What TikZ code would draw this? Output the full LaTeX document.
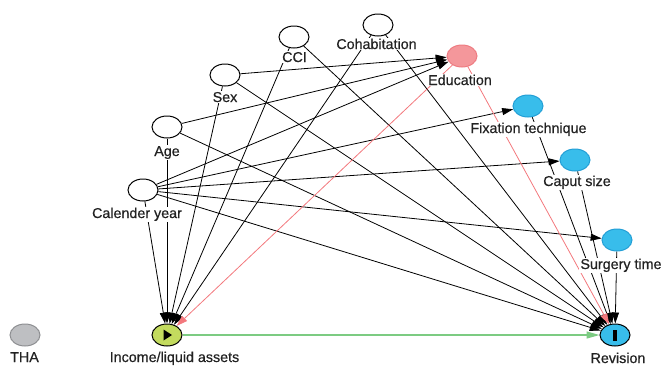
\documentclass[tikz,border=0pt]{standalone}
\usepackage{fontspec}
\setmainfont{Liberation Sans}
\newfontfamily\lblfont{Liberation Sans}[FakeBold=0.5]
\usetikzlibrary{arrows.meta,shapes.geometric,backgrounds,calc}
\definecolor{txt}{HTML}{222222}
\definecolor{incfill}{HTML}{C3DB5E}
\definecolor{bluefill}{HTML}{38BDEB}
\definecolor{blueedge}{HTML}{239FD6}
\definecolor{edufill}{HTML}{F4979B}
\definecolor{eduedge}{HTML}{EE7C82}
\definecolor{thafill}{HTML}{BEBFC2}
\definecolor{thaedge}{HTML}{8E8F92}
\definecolor{redge}{HTML}{F3787D}
\definecolor{gedge}{HTML}{7CCB82}
\begin{document}
\begin{tikzpicture}[x=1pt,y=-1pt,
  var/.style={ellipse,minimum width=30pt,minimum height=22pt,inner sep=0pt,line width=1pt},
  wnode/.style={var,draw=black,fill=white},
  bnode/.style={var,draw=blueedge,fill=bluefill},
  enode/.style={var,draw=eduedge,fill=edufill},
  tnode/.style={var,draw=thaedge,fill=thafill},
  inode/.style={var,draw=black,fill=incfill},
  onode/.style={var,draw=black,fill=bluefill},
  lbl/.style={anchor=base,fill=white,inner sep=1pt,text=txt,font=\lblfont\fontsize{14.3}{16}\selectfont},
  arr/.style={line width=0.8pt,draw=black,-{Triangle[length=11pt,width=7pt]}},
  rarr/.style={line width=0.8pt,draw=redge,-{Triangle[length=11pt,width=7pt]}},
  garr/.style={line width=1.2pt,draw=gedge,-{Triangle[length=13pt,width=7pt]}},
]
\useasboundingbox (0,0) rectangle (662,365);
% nodes
\node[wnode] (cci) at (294,37) {};
\node[wnode] (coh) at (378,25) {};
\node[wnode] (sex) at (225,75) {};
\node[wnode] (age) at (167,127) {};
\node[wnode] (cal) at (143,190) {};
\node[enode] (edu) at (462,56) {};
\node[bnode] (fix) at (528,106) {};
\node[bnode] (cap) at (575,160) {};
\node[bnode] (sur) at (617,240) {};
\node[onode] (rev) at (615,335) {};
\node[inode] (inc) at (167,335) {};
\node[tnode] (tha) at (25,335) {};
% inner symbols
\fill[black] ($(inc)+(-3.5,-5.5)$) -- ($(inc)+(5,0)$) -- ($(inc)+(-3.5,5.5)$) -- cycle;
\fill[black] ($(rev)+(-1.6,-5.5)$) rectangle ($(rev)+(1.6,5.5)$);
% edges
\begin{pgfonlayer}{background}
\draw[arr] (cal) -- (inc);
\draw[arr] (age) -- (inc);
\draw[arr] (sex) -- (inc);
\draw[arr] (cci) -- (inc);
\draw[arr] (coh) -- (inc);
\draw[arr] (sex) -- (edu);
\draw[arr] (age) -- (edu);
\draw[arr] (cal) -- (edu);
\draw[arr] (cal) -- (fix);
\draw[arr] (cal) -- (cap);
\draw[arr] (cal) -- (sur);
\draw[arr] (cal) -- (rev);
\draw[arr] (age) -- (rev);
\draw[arr] (sex) -- (rev);
\draw[arr] (cci) -- (rev);
\draw[arr] (coh) -- (rev);
\draw[arr] (fix) -- (rev);
\draw[arr] (cap) -- (rev);
\draw[arr] (sur) -- (rev);
\draw[rarr] (edu) -- (inc);
\draw[rarr] (edu) -- (rev);
\draw[garr] (inc) -- (rev);
\end{pgfonlayer}
% labels
\node[lbl] (lcci) at (294.5,62) {CCI};
\node[lbl] (lcoh) at (376.5,49) {Cohabitation};
\node[lbl] (lsex) at (225,102) {Sex};
\node[lbl] (lage) at (167,156) {Age};
\node[lbl] (lcal) at (137,218) {Calender year};
\node[lbl] (ledu) at (460,85) {Education};
\node[lbl] (lfix) at (528.5,133) {Fixation technique};
\node[lbl] (lcap) at (577,186) {Caput size};
\node[lbl] (lsur) at (621,269) {Surgery time};
\node[lbl] (lrev) at (618,363) {Revision};
\node[lbl] (linc) at (174.5,362) {Income/liquid assets};
\node[lbl] (ltha) at (24.5,362) {THA};
\end{tikzpicture}
\end{document}
